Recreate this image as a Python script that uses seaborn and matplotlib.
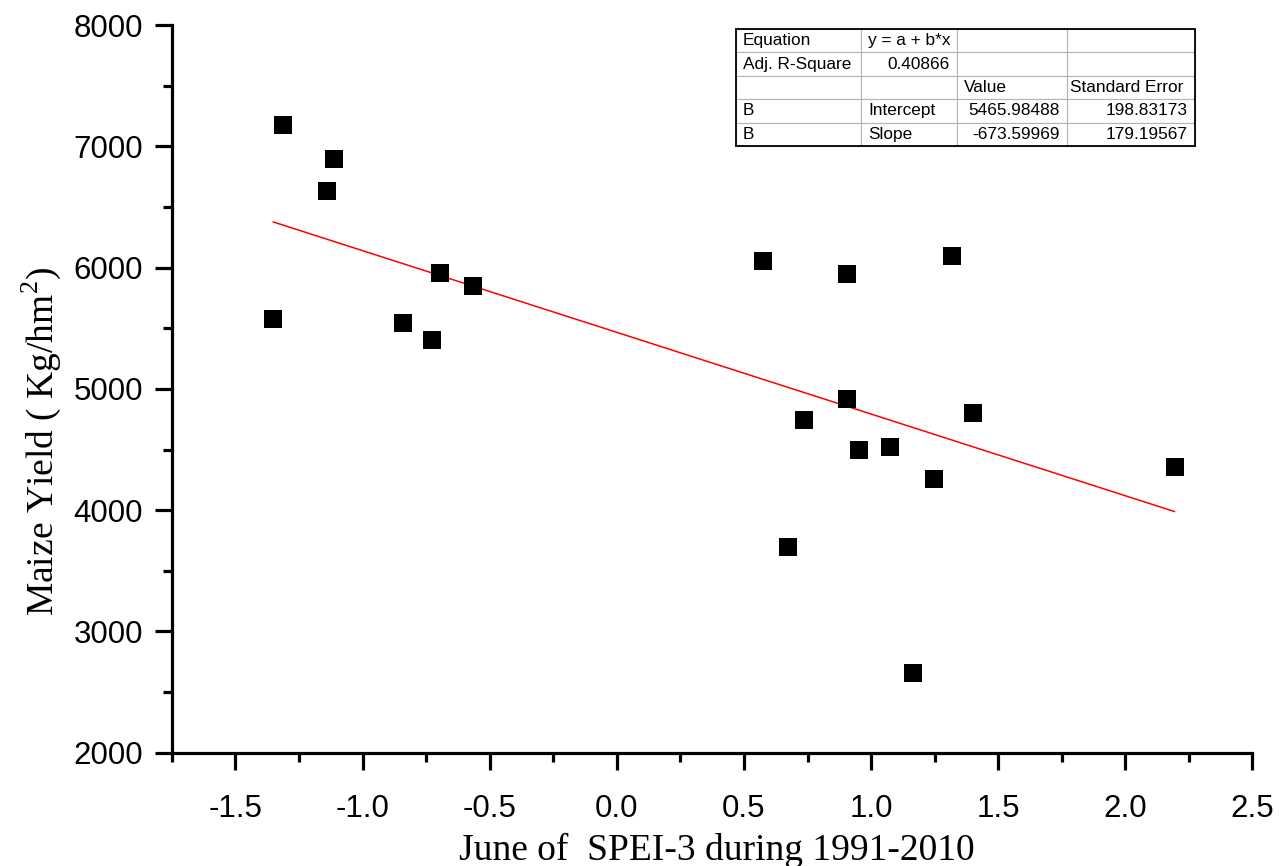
import matplotlib
matplotlib.use('Agg')
import matplotlib.pyplot as plt
from matplotlib.ticker import MultipleLocator, FormatStrFormatter
from matplotlib.patches import Rectangle
import numpy as np
import pandas as pd
import seaborn as sns

# June SPEI-3 vs maize yield, 1991-2010
spei = [-1.352, -1.312, -1.140, -1.112, -0.843, -0.729, -0.695, -0.565,
        0.576, 0.672, 0.737, 0.904, 0.906, 0.951, 1.076, 1.166,
        1.246, 1.319, 1.402, 2.194]
yield_kg = [5579, 7176, 6631, 6895, 5545, 5403, 5953, 5846,
            6057, 3694, 4743, 4914, 5947, 4496, 4518, 2655,
            4257, 6095, 4798, 4358]

# linear fit reported in the inset table
intercept = 5465.98488
slope = -673.59969

table_rows = [
    ['Equation', 'y = a + b*x', '', ''],
    ['Adj. R-Square', '0.40866', '', ''],
    ['', '', 'Value', 'Standard Error'],
    ['B', 'Intercept', '5465.98488', '198.83173'],
    ['B', 'Slope', '-673.59969', '179.19567'],
]
right_cells = [(1, 1), (3, 2), (3, 3), (4, 2), (4, 3)]

df = pd.DataFrame({'spei': spei, 'yield': yield_kg})
fit_x = np.array([min(spei), max(spei)])
fit = pd.DataFrame({'spei': fit_x, 'yield': intercept + slope * fit_x})

sns.set_style('ticks', {'axes.edgecolor': 'black', 'text.color': 'black',
                        'xtick.color': 'black', 'ytick.color': 'black',
                        'axes.labelcolor': 'black'})
plt.rcParams['font.family'] = ['Liberation Sans', 'DejaVu Sans']
plt.rcParams['mathtext.fontset'] = 'custom'
plt.rcParams['mathtext.rm'] = 'Liberation Serif'

fig = plt.figure(figsize=(12.83, 8.66), dpi=100)
ax = fig.add_axes([0.134, 0.1308, 0.8422, 0.8403])

sns.lineplot(data=fit, x='spei', y='yield', color='red', linewidth=1.1, ax=ax)
sns.scatterplot(data=df, x='spei', y='yield', marker='s', s=165, color='black',
                linewidth=0, ax=ax, zorder=3)

ax.set_xlim(-1.75, 2.5)
ax.set_ylim(2000, 8000)
ax.xaxis.set_major_locator(MultipleLocator(0.5))
ax.xaxis.set_minor_locator(MultipleLocator(0.25))
ax.yaxis.set_major_locator(MultipleLocator(1000))
ax.yaxis.set_minor_locator(MultipleLocator(500))
ax.xaxis.set_major_formatter(FormatStrFormatter('%.1f'))

sns.despine(ax=ax)
for side in ['left', 'bottom']:
    ax.spines[side].set_linewidth(2.3)
ax.tick_params(which='major', direction='out', length=12.2, width=2.3,
               labelsize=22.5, colors='black')
ax.tick_params(which='minor', direction='out', length=6.5, width=2.3, colors='black')
ax.tick_params(axis='x', which='major', pad=17.5)
ax.tick_params(axis='y', which='major', pad=8.6)

ax.set_xlabel('June of  SPEI-3 during 1991-2010', fontsize=27,
              family='Liberation Serif', color='black')
ax.set_ylabel(r'Maize Yield ( Kg/hm$^{\mathrm{2}}$)', fontsize=27,
              family='Liberation Serif', color='black')
ax.xaxis.set_label_coords(0.504, -0.11)
ax.yaxis.set_label_coords(-0.1009, 0.4277)

# inset fit table
col_px = [125, 95.7, 110, 128.3]
tw = 0.4248
col_w = [tw * c / sum(col_px) for c in col_px]
tbl = ax.table(cellText=table_rows, colWidths=col_w, cellLoc='left',
               bbox=[0.522, 0.8337, tw, 0.1608])
tbl.auto_set_font_size(False)
tbl.set_fontsize(12.4)
for (r, c), cell in tbl.get_celld().items():
    cell.set_edgecolor('#b4b4b4')
    cell.set_linewidth(0.8)
    cell.PAD = 7.0 / col_px[c]
    cell.get_text().set_color('black')
    if (r, c) in right_cells:
        cell._loc = 'right'
        cell.get_text().set_ha('right')
tbl[2, 3].PAD = 3.0 / col_px[3]
ax.add_patch(Rectangle((0.522, 0.8337), tw, 0.1608, transform=ax.transAxes,
                       fill=False, edgecolor='black', linewidth=1.3, zorder=10,
                       clip_on=False))

fig.savefig('out.png', dpi=100)
